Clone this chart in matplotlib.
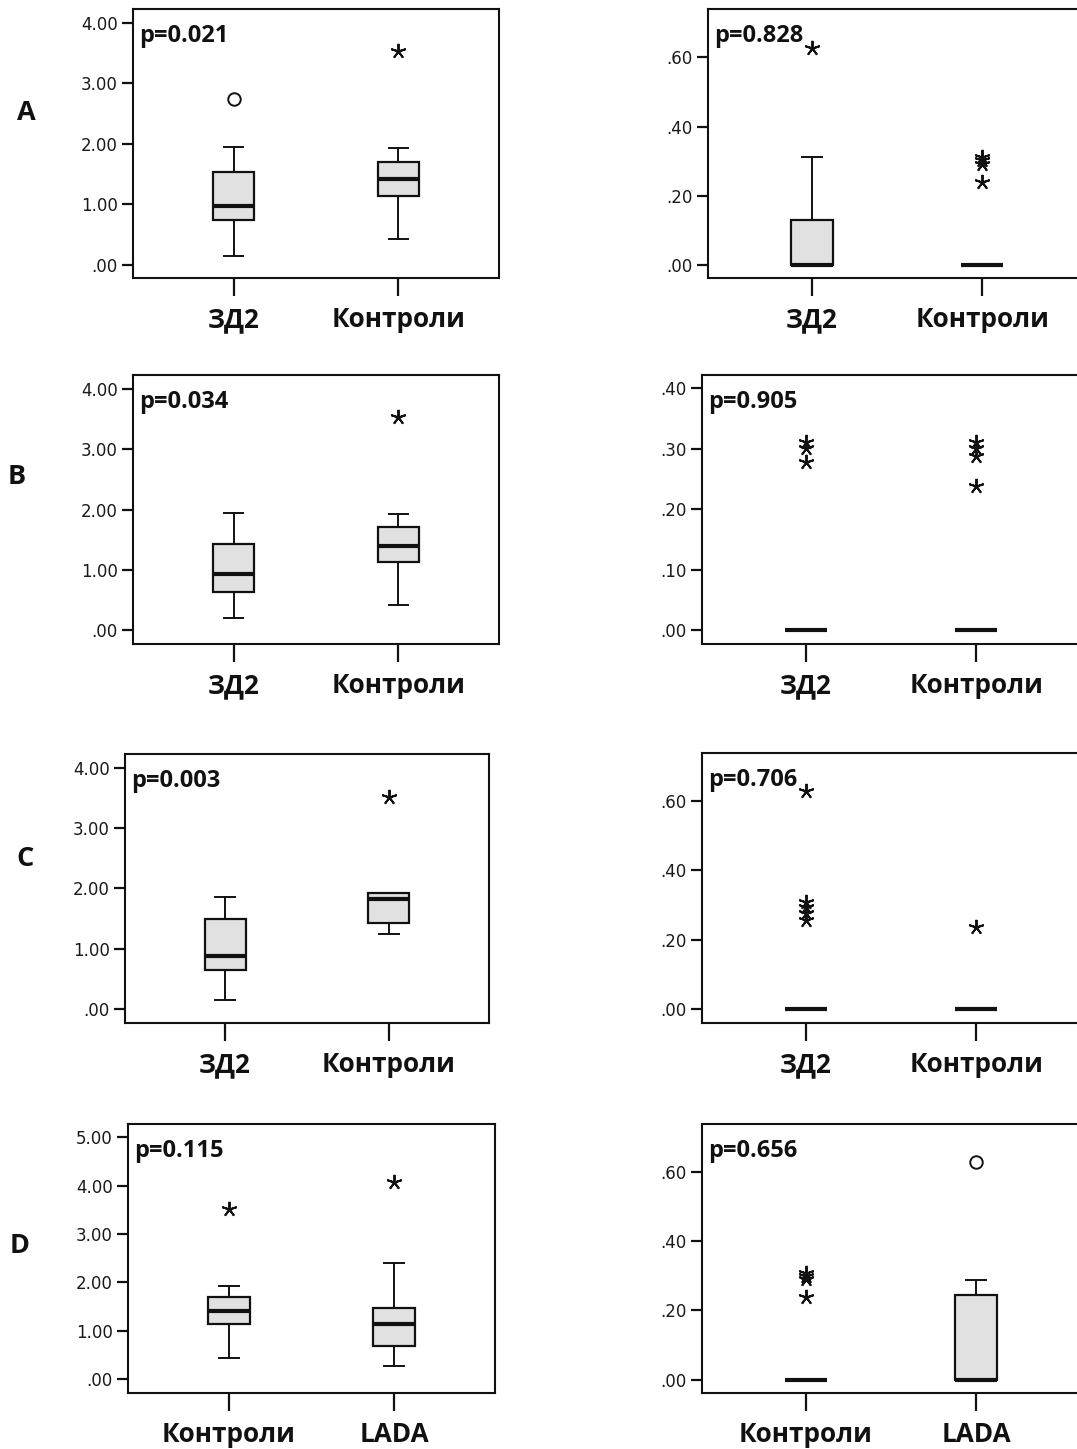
import matplotlib
matplotlib.use("Agg")
import matplotlib.pyplot as plt
from matplotlib.ticker import FuncFormatter

W, H = 1077, 1449

# Group labels
CATS_ZD2 = ["ЗД2", "Контроли"]
CATS_LADA = ["Контроли", "LADA"]
ROW_LABELS = ["A", "B", "C", "D"]

# Five-number summaries per group: lower whisker, Q1, median, Q3, upper whisker
a1_stats = [[0.15, 0.74, 0.975, 1.54, 1.95], [0.435, 1.145, 1.415, 1.71, 1.94]]
a1_circles = [[2.75], []]
a1_stars = [[], [3.54]]

a2_stats = [[0.0, 0.0, 0.0, 0.13, 0.311], [0.0, 0.0, 0.0, 0.0, 0.0]]
a2_circles = [[], []]
a2_stars = [[0.628], [0.313, 0.303, 0.292, 0.241]]

b1_stats = [[0.205, 0.63, 0.94, 1.435, 1.94], [0.425, 1.13, 1.405, 1.705, 1.93]]
b1_circles = [[], []]
b1_stars = [[], [3.53]]

b2_stats = [[0.0, 0.0, 0.0, 0.0, 0.0], [0.0, 0.0, 0.0, 0.0, 0.0]]
b2_circles = [[], []]
b2_stars = [[0.312, 0.301, 0.279], [0.312, 0.301, 0.289, 0.239]]

c1_stats = [[0.148, 0.646, 0.88, 1.50, 1.85], [1.25, 1.43, 1.82, 1.93, 1.93]]
c1_circles = [[], []]
c1_stars = [[], [3.52]]

c2_stats = [[0.0, 0.0, 0.0, 0.0, 0.0], [0.0, 0.0, 0.0, 0.0, 0.0]]
c2_circles = [[], []]
c2_stars = [[0.628, 0.309, 0.295, 0.276, 0.256], [0.237]]

d1_stats = [[0.427, 1.13, 1.41, 1.70, 1.92], [0.275, 0.683, 1.145, 1.476, 2.40]]
d1_circles = [[], []]
d1_stars = [[3.52], [4.07]]

d2_stats = [[0.0, 0.0, 0.0, 0.0, 0.0], [0.0, 0.0, 0.0, 0.244, 0.289]]
d2_circles = [[], [0.629]]
d2_stars = [[0.309, 0.299, 0.29, 0.239], []]

P_VALUES = ["p=0.021", "p=0.828", "p=0.034", "p=0.905",
            "p=0.003", "p=0.706", "p=0.115", "p=0.656"]

Y_TICKS_4 = [0, 1, 2, 3, 4]
Y_TICKS_5 = [0, 1, 2, 3, 4, 5]
Y_TICKS_06 = [0.0, 0.2, 0.4, 0.6]
Y_TICKS_04 = [0.0, 0.1, 0.2, 0.3, 0.4]

panels = [
    # (cats, stats, circles, stars, yticks, ylim, pixel box x0, y0, x1, y1)
    (CATS_ZD2, a1_stats, a1_circles, a1_stars, Y_TICKS_4, (-0.215, 4.23), (133, 9, 499, 278)),
    (CATS_ZD2, a2_stats, a2_circles, a2_stars, Y_TICKS_06, (-0.0376, 0.74), (708, 9, 1086, 278)),
    (CATS_ZD2, b1_stats, b1_circles, b1_stars, Y_TICKS_4, (-0.225, 4.23), (133, 375, 499, 644)),
    (CATS_ZD2, b2_stats, b2_circles, b2_stars, Y_TICKS_04, (-0.0224, 0.422), (702, 375, 1080, 644)),
    (CATS_ZD2, c1_stats, c1_circles, c1_stars, Y_TICKS_4, (-0.232, 4.227), (125, 754, 489, 1023)),
    (CATS_ZD2, c2_stats, c2_circles, c2_stars, Y_TICKS_06, (-0.0405, 0.738), (702, 753, 1080, 1023)),
    (CATS_LADA, d1_stats, d1_circles, d1_stars, Y_TICKS_5, (-0.29, 5.277), (128, 1124, 495, 1393)),
    (CATS_LADA, d2_stats, d2_circles, d2_stars, Y_TICKS_06, (-0.0387, 0.738), (702, 1124, 1080, 1393)),
]

ROW_LABEL_POS = [(26, 113), (17, 477), (25, 859), (20, 1246)]

BOLD_FONT = "Open Sans"
TICK_FONT = "DejaVu Sans"
INK = "#111111"
FILL = "#e1e1e1"


def tick_fmt(v, pos):
    s = f"{v:.2f}"
    return s[1:] if s.startswith("0") else s


fig = plt.figure(figsize=(W / 100, H / 100), dpi=100)

for (cats, stats, circles, stars, yticks, ylim, box), ptxt in zip(panels, P_VALUES):
    x0, y0, x1, y1 = box
    ax = fig.add_axes([x0 / W, 1 - y1 / H, (x1 - x0) / W, (y1 - y0) / H])
    positions = list(range(1, len(cats) + 1))
    bstats = [dict(whislo=s[0], q1=s[1], med=s[2], q3=s[3], whishi=s[4], fliers=[])
              for s in stats]
    ax.bxp(bstats, positions=positions, widths=0.25, capwidths=0.12,
           patch_artist=True, showfliers=False,
           boxprops=dict(facecolor=FILL, edgecolor=INK, linewidth=1.6),
           medianprops=dict(color=INK, linewidth=3.0, solid_capstyle="butt"),
           whiskerprops=dict(color=INK, linewidth=1.4),
           capprops=dict(color=INK, linewidth=1.4))
    for pos, pts in zip(positions, stars):
        if pts:
            ax.plot([pos] * len(pts), pts, linestyle="none", marker=(5, 2, 0),
                    markersize=11, markeredgewidth=1.4, color=INK, zorder=4)
    for pos, pts in zip(positions, circles):
        if pts:
            ax.plot([pos] * len(pts), pts, linestyle="none", marker="o",
                    markersize=9, markeredgewidth=1.4, markerfacecolor="white",
                    markeredgecolor=INK, zorder=4)

    ax.set_xlim(0.39, 2.61)
    ax.set_ylim(*ylim)
    ax.set_xticks(positions)
    ax.set_xticklabels(cats, fontfamily=BOLD_FONT, fontweight="bold",
                       fontsize=18.8, color=INK)
    ax.set_yticks(yticks)
    ax.yaxis.set_major_formatter(FuncFormatter(tick_fmt))
    for lab in ax.get_yticklabels():
        lab.set_fontfamily(TICK_FONT)
        lab.set_fontsize(12)
        lab.set_color("#1a1a1a")
    ax.tick_params(axis="y", direction="out", length=8, width=1.6, pad=3, color=INK)
    ax.tick_params(axis="x", direction="out", length=13, width=1.6, pad=7, color=INK)
    for sp in ax.spines.values():
        sp.set_linewidth(1.5)
        sp.set_color(INK)

    ax.annotate(ptxt, xy=(0, 1), xycoords="axes fraction",
                xytext=(4.3, -23.5), textcoords="offset points",
                ha="left", va="baseline", fontfamily=BOLD_FONT,
                fontweight="bold", fontsize=17, color=INK)

for lab, (px, py) in zip(ROW_LABELS, ROW_LABEL_POS):
    fig.text(px / W, 1 - py / H, lab, ha="center", va="center",
             fontfamily=BOLD_FONT, fontweight="bold", fontsize=19.5, color=INK)

fig.savefig("out.png", dpi=100, facecolor="white")
